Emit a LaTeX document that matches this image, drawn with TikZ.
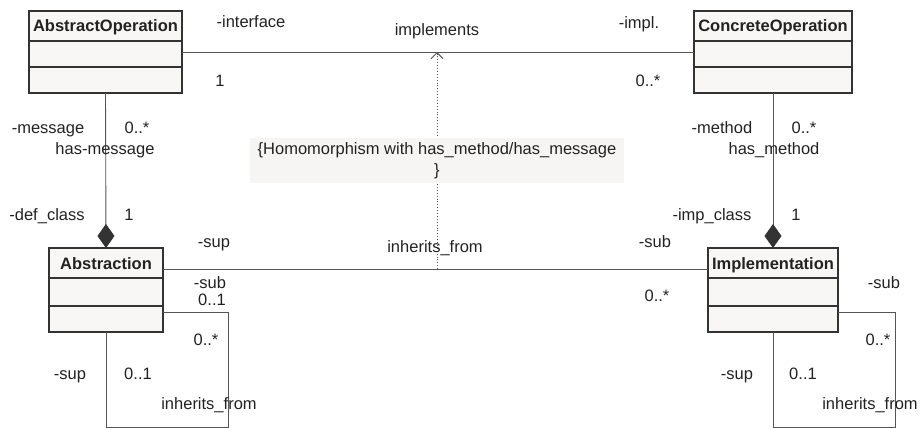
\documentclass[tikz,border=0pt]{standalone}
\usepackage{fontspec}
\setmainfont{Liberation Sans}
\usetikzlibrary{arrows.meta}
\definecolor{boxfill}{HTML}{F8F7F5}
\definecolor{notefill}{HTML}{F6F5F3}
\definecolor{ink}{HTML}{222222}
\definecolor{edgec}{HTML}{555555}
\definecolor{framec}{HTML}{333333}
\begin{document}
\begin{tikzpicture}[x=1pt,y=-1pt,
  cls/.style={draw=framec, line width=1.3pt, fill=boxfill, inner sep=0pt, outer sep=0pt},
  clsname/.style={inner sep=0pt, text height=12pt, text depth=0pt, font=\fontsize{16.5}{19}\selectfont\bfseries, text=ink},
  sep/.style={draw=framec, line width=1.3pt},
  lbl/.style={inner sep=0pt, text height=12pt, text depth=0pt, font=\fontsize{16.5}{19}\selectfont, text=ink},
  assoc/.style={draw=edgec, line width=0.9pt},
  comp/.style={assoc, -{Diamond[length=24pt,width=17pt,color=framec]}},
  dep/.style={draw=edgec, line width=0.9pt, dotted, -{Straight Barb[length=6pt,width=12pt]}},
  notebox/.style={fill=notefill, inner sep=0pt, minimum width=374pt, minimum height=45pt, align=center, font=\fontsize{16.5}{21}\selectfont, text=ink}
]
\useasboundingbox (0,0) rectangle (924,428);

% classes
\node[cls, minimum width=153pt, minimum height=82pt] (ao) at (105.5,52) {};
\node[cls, minimum width=158pt, minimum height=82pt] (co) at (773,52) {};
\node[cls, minimum width=114pt, minimum height=84pt] (abs) at (106,290) {};
\node[cls, minimum width=130pt, minimum height=84pt] (impl) at (773,290) {};

\node[clsname] (aoname) at ([yshift=-15pt]ao.north) {AbstractOperation};
\node[clsname] (coname) at ([yshift=-15pt]co.north) {ConcreteOperation};
\node[clsname] (absname) at ([yshift=-15pt]abs.north) {Abstraction};
\node[clsname] (implname) at ([yshift=-15pt]impl.north) {Implementation};

\draw[sep] ([yshift=-30pt]ao.north west) -- ([yshift=-30pt]ao.north east);
\draw[sep] ([yshift=-56pt]ao.north west) -- ([yshift=-56pt]ao.north east);
\draw[sep] ([yshift=-30pt]co.north west) -- ([yshift=-30pt]co.north east);
\draw[sep] ([yshift=-56pt]co.north west) -- ([yshift=-56pt]co.north east);
\draw[sep] ([yshift=-30pt]abs.north west) -- ([yshift=-30pt]abs.north east);
\draw[sep] ([yshift=-58pt]abs.north west) -- ([yshift=-58pt]abs.north east);
\draw[sep] ([yshift=-30pt]impl.north west) -- ([yshift=-30pt]impl.north east);
\draw[sep] ([yshift=-58pt]impl.north west) -- ([yshift=-58pt]impl.north east);

% associations
\draw[assoc] (ao.east) -- (co.west);
\draw[comp] (ao.south) -- (abs.north);
\draw[comp] (co.south) -- (impl.north);
\draw[assoc] ([yshift=-21pt]abs.north east) coordinate (inhl) -- ([yshift=-21pt]impl.north west) coordinate (inhr);
\draw[assoc] ([yshift=-64pt]abs.north east) -- ++(65,0) -- ++(0,115) -| (abs.south);
\draw[assoc] ([yshift=-64pt]impl.north east) -- ++(57,0) -- ++(0,115) -| (impl.south);

% dependency with note
\coordinate (dbot) at (437,269);
\coordinate (dtop) at (437,52);
\draw[dep] (dbot) -- (dtop);
\node[notebox] (note) at (437,160.5) {\{Homomorphism with has\_method/has\_message\\\}};

% labels
\node[lbl] (l1) at (251,22) {-interface};
\node[lbl] (l2) at (220,80) {1};
\node[lbl] (l3) at (437,30) {implements};
\node[lbl] (l4) at (639,23) {-impl.};
\node[lbl] (l5) at (648,80) {0..*};
\node[lbl] (l6) at (48,127) {-message};
\node[lbl] (l7) at (137,127) {0..*};
\node[lbl] (l8) at (105,148) {has-message};
\node[lbl] (l9) at (47,214) {-def\_class};
\node[lbl] (l10) at (129,214) {1};
\node[lbl] (l11) at (214,241) {-sup};
\node[lbl] (l12) at (210,282) {-sub};
\node[lbl] (l13) at (212,299) {0..1};
\node[lbl] (l14) at (206,339) {0..*};
\node[lbl] (l15) at (70,373) {-sup};
\node[lbl] (l16) at (138,373) {0..1};
\node[lbl] (l17) at (209,403) {inherits\_from};
\node[lbl] (l18) at (435,246) {inherits\_from};
\node[lbl] (l19) at (655,241) {-sub};
\node[lbl] (l20) at (657,295) {0..*};
\node[lbl] (l21) at (722,127) {-method};
\node[lbl] (l22) at (804,127) {0..*};
\node[lbl] (l23) at (774,148) {has\_method};
\node[lbl] (l24) at (712,214) {-imp\_class};
\node[lbl] (l25) at (796,214) {1};
\node[lbl] (l26) at (884,282) {-sub};
\node[lbl] (l27) at (878,339) {0..*};
\node[lbl] (l28) at (737,373) {-sup};
\node[lbl] (l29) at (803,373) {0..1};
\node[lbl] (l30) at (870,403) {inherits\_from};
\end{tikzpicture}
\end{document}
